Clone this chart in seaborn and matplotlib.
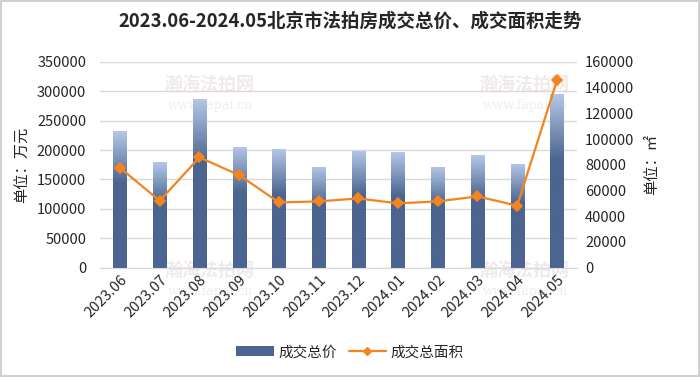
import numpy as np
import pandas as pd
import seaborn as sns
import matplotlib.pyplot as plt
from matplotlib.patches import Patch
from matplotlib.lines import Line2D
from matplotlib.colors import LinearSegmentedColormap

# data
months = ['2023.06', '2023.07', '2023.08', '2023.09', '2023.10', '2023.11',
          '2023.12', '2024.01', '2024.02', '2024.03', '2024.04', '2024.05']
total_price = [232000, 180000, 287000, 206000, 202000, 172000,
               199000, 196000, 172000, 192000, 177000, 295000]
total_area = [77700, 52000, 85700, 72000, 50700, 51500,
              53800, 50000, 51500, 55400, 48200, 145500]

df = pd.DataFrame({'month': months, 'price': total_price, 'area': total_area})

sns.set_style('white')
plt.rcParams['font.family'] = ['Noto Sans CJK SC', 'DejaVu Sans']

dark_blue = '#4b6590'
light_blue = '#b4c7e7'
orange = '#f5831f'

fig, ax = plt.subplots(figsize=(7, 3.77), dpi=100)
fig.subplots_adjust(left=0.143, right=0.824, top=0.836, bottom=0.29)
fig.patch.set_edgecolor('#d0d0d0')
fig.patch.set_linewidth(1.5)

# watermarks, drawn first so they stay behind everything
for (wx, wy) in [(0.30, 0.775), (0.75, 0.775), (0.30, 0.283), (0.75, 0.283)]:
    fig.text(wx, wy, '瀚海法拍网', fontsize=13, color='#f0eaea', ha='center',
             va='center', weight='bold', zorder=-5)
    fig.text(wx, wy - 0.055, 'www.fapai.cn', fontsize=9, color='#f2eded',
             ha='center', va='center', family='DejaVu Serif', zorder=-5)
ax.patch.set_alpha(0)

sns.barplot(data=df, x='month', y='price', color=dark_blue, width=0.33,
            saturation=1, ax=ax, zorder=2)

# gradient fill on every bar: light at the top, dark from a third down
cmap = LinearSegmentedColormap.from_list('bar', [(0, dark_blue), (0.62, dark_blue), (1, light_blue)])
grad = np.linspace(0, 1, 256).reshape(-1, 1)
for p in ax.patches:
    x0, y0 = p.get_x(), p.get_y()
    w, h = p.get_width(), p.get_height()
    im = ax.imshow(grad, cmap=cmap, aspect='auto', origin='lower',
                   extent=[x0, x0 + w, y0, y0 + h], zorder=2)
    im.set_clip_path(p)
    p.set_facecolor('none')
    p.set_edgecolor('none')

ax.set_xlim(-0.5, len(months) - 0.5)
ax.set_ylim(0, 350000)
ax.set_yticks(np.arange(0, 350001, 50000))
ax.grid(axis='y', color='#d9d9d9', linewidth=1, zorder=0)
ax.set_axisbelow(True)
ax.set_xlabel('')
ax.set_ylabel('单位：万元', fontsize=11, labelpad=4)
ax.tick_params(axis='both', length=0, labelsize=10.5)
ax.tick_params(axis='y', pad=10)
plt.setp(ax.get_xticklabels(), rotation=45, ha='right', rotation_mode='anchor')
for s in ['top', 'right', 'left']:
    ax.spines[s].set_visible(False)
ax.spines['bottom'].set_color('#d9d9d9')

ax2 = ax.twinx()
sns.pointplot(data=df, x='month', y='area', color=orange, markers='D',
              markersize=5, linewidth=1.6, ax=ax2)
ax2.set_xlim(-0.5, len(months) - 0.5)
ax2.set_ylim(0, 160000)
ax2.set_yticks(np.arange(0, 160001, 20000))
ax2.set_ylabel('单位：㎡', fontsize=11, rotation=90, labelpad=6)
ax2.tick_params(axis='y', length=0, labelsize=10.5, pad=6)
for s in ax2.spines.values():
    s.set_visible(False)

fig.suptitle('2023.06-2024.05北京市法拍房成交总价、成交面积走势', fontsize=13.3,
             weight='bold', y=0.97)

handles = [Patch(facecolor=dark_blue, edgecolor='none'),
           Line2D([0], [0], color=orange, marker='D', markersize=4, linewidth=1.6)]
fig.legend(handles, ['成交总价', '成交总面积'], loc='center', ncol=2,
           bbox_to_anchor=(0.5, 0.065), frameon=False, fontsize=10.5,
           handlelength=2.6, columnspacing=0.8, handletextpad=0.3)

fig.savefig('out.png', dpi=100)
